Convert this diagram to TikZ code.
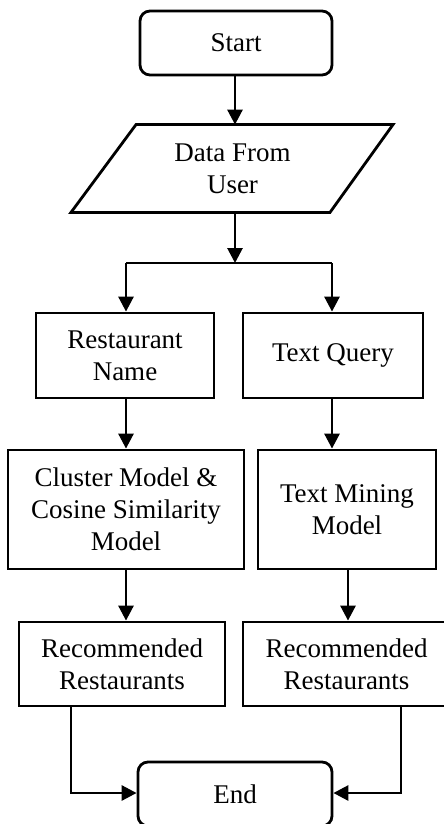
\documentclass[tikz,border=0pt]{standalone}
\usepackage{fontspec}
\setmainfont{Liberation Serif}
\usetikzlibrary{arrows.meta,calc}
\begin{document}
\begin{tikzpicture}[x=1pt,y=-1pt,
  line width=2.8pt,
  every node/.style={font=\fontsize{27}{32}\selectfont, align=center, inner sep=0pt},
  terminal/.style={draw, rounded corners=10pt, minimum width=192pt, minimum height=64pt},
  procbox/.style={draw, rectangle},
  arr/.style={-{Triangle[length=15pt,width=15pt]}}]
  \useasboundingbox (0,0) rectangle (444,824);
  \clip (0,0) rectangle (444,824);

  % start / input
  \node[terminal] (start) at (236,43) {Start};
  \node[minimum width=194pt, minimum height=85pt] (data) at (232.5,168.5) {Data From\\User};
  \draw ([xshift=-96.5pt]data.north) -- ([xshift=160.5pt]data.north)
        -- ([xshift=97.5pt]data.south) -- ([xshift=-161.5pt]data.south) -- cycle;

  % two branches
  \node[procbox, minimum width=178pt, minimum height=85pt] (rname) at (125,355.5) {Restaurant\\Name};
  \node[procbox, minimum width=180pt, minimum height=85pt] (tquery) at (333,355.5) {Text Query};
  \node[procbox, minimum width=236pt, minimum height=119pt] (cluster) at (126,509.5) {Cluster Model \&\\Cosine Similarity\\Model};
  \node[procbox, minimum width=178pt, minimum height=119pt] (tmining) at (347,509.5) {Text Mining\\Model};
  \node[procbox, minimum width=206pt, minimum height=84pt] (recl) at (122,664) {Recommended\\Restaurants};
  \node[procbox, minimum width=207pt, minimum height=84pt] (recr) at (346.5,664) {Recommended\\Restaurants};

  % end
  \node[terminal, minimum width=194pt] (endn) at (235,794) {End};

  % connectors
  \coordinate (split) at (235,263);
  \draw[arr] ([xshift=-1pt]start.south) -- ([xshift=-1pt]start.south |- data.north);
  \draw[arr] (split |- data.south) -- (split);
  \draw (split) -- (126,263) coordinate (splitl);
  \draw (split) -- (332,263) coordinate (splitr);
  \draw[arr] (splitl) -- (splitl |- rname.north);
  \draw[arr] (splitr) -- (splitr |- tquery.north);
  \draw[arr] ([xshift=1pt]rname.south) -- ([xshift=1pt]rname.south |- cluster.north);
  \draw[arr] (splitr |- tquery.south) -- (splitr |- tmining.north);
  \draw[arr] (cluster.south) -- (cluster.south |- recl.north);
  \draw[arr] ([xshift=1pt]tmining.south) -- ([xshift=1pt]tmining.south |- recr.north);
  \draw[arr] ([xshift=-51pt]recl.south) |- ([yshift=1pt]endn.west);
  \draw[arr] ([xshift=54.5pt]recr.south) |- ([yshift=1pt]endn.east);
\end{tikzpicture}
\end{document}
